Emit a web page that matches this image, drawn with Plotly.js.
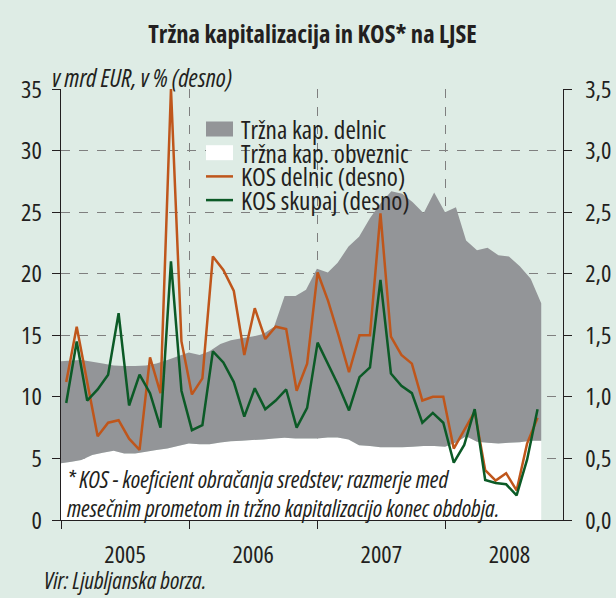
<!DOCTYPE html>
<html><head><meta charset="utf-8">
<script src="https://cdn.plot.ly/plotly-3.0.1.min.js"></script>
<style>html,body{margin:0;padding:0;background:#deece5;}#chart{width:616px;height:598px;}</style>
</head><body><div id="chart"></div>
<script>
// ---- data ----
// market capitalisation at end of month (mrd EUR), Dec 2004 .. Sep 2008
const kapObveznic = [4.6,4.73,4.87,5.27,5.46,5.62,5.4,5.4,5.54,5.68,5.81,6.0,6.22,6.16,6.16,6.3,6.4,6.43,6.49,6.54,6.62,6.68,6.62,6.62,6.62,6.7,6.7,6.54,6.08,6.0,5.9,5.9,5.9,5.95,6.0,6.0,5.95,6.3,6.8,6.35,6.27,6.22,6.27,6.32,6.43,6.43];
const kapDelnic = [8.3,8.22,8.13,7.58,7.24,6.93,7.1,7.1,7.01,7.02,7.19,7.3,7.38,7.24,7.54,8.0,8.2,8.32,8.41,8.56,9.08,11.52,11.58,12.08,13.78,13.4,14.2,15.66,16.92,18.5,19.8,20.8,20.6,19.85,18.9,20.6,19.05,19.1,15.9,15.55,15.83,15.28,15.13,14.28,13.17,11.17];
// monthly turnover ratio (%), Jan 2005 .. Oct 2008
const kosDelnic = [1.12,1.57,1.12,0.68,0.79,0.81,0.66,0.57,1.32,1.03,3.5,1.45,1.02,1.15,2.14,2.03,1.86,1.34,1.72,1.47,1.57,1.55,1.05,1.27,2.01,1.78,1.5,1.2,1.5,1.5,2.49,1.49,1.34,1.27,0.97,1.0,1.0,0.58,0.73,0.88,0.405,0.32,0.38,0.24,0.62,0.83];
const kosSkupaj = [0.95,1.45,0.97,1.06,1.18,1.68,0.93,1.18,1.03,0.75,2.1,1.05,0.73,0.77,1.37,1.28,1.12,0.84,1.07,0.9,0.97,1.06,0.75,0.91,1.44,1.27,1.09,0.89,1.16,1.24,1.95,1.19,1.09,1.03,0.79,0.87,0.79,0.465,0.61,0.9,0.325,0.3,0.29,0.2,0.49,0.9];
const monthNames = ['jan','feb','mar','apr','maj','jun','jul','avg','sep','okt','nov','dec'];
const seriesNames = ['Tržna kap. delnic','Tržna kap. obveznic','KOS delnic (desno)','KOS skupaj (desno)'];
const titleText = 'Tržna kapitalizacija in KOS* na LJSE';
const yTitleText = 'v mrd EUR, v % (desno)';
const noteLines = ['* KOS - koeficient obračanja sredstev; razmerje med', 'mesečnim prometom in tržno kapitalizacijo konec obdobja.'];
const sourceText = 'Vir: Ljubljanska borza.';

// category labels
const areaDates = kapObveznic.map((_, j) => new Date(Date.UTC(2005, j, 0)).toISOString().slice(0, 10));
const kosMonths = kosDelnic.map((_, i) => monthNames[i % 12] + ' ' + (2005 + Math.floor(i / 12)));

// ---- font selection (prefer a narrow sans) ----
function measure(text, family, opts) {
  opts = opts || {};
  const s = document.createElement('span');
  s.style.cssText = 'position:absolute;left:-9999px;top:0;white-space:nowrap;font-size:100px;' +
    'font-family:' + family + ';font-weight:' + (opts.weight || 'normal') + ';font-style:' + (opts.style || 'normal') +
    ';font-stretch:' + (opts.stretch || 'normal');
  s.textContent = text;
  document.body.appendChild(s);
  const w = s.getBoundingClientRect().width;
  s.remove();
  return w;
}
const probe = 'mesečnim prometom in tržno kapitalizacijo 2005';
function available(fam) {
  return measure(probe, "'" + fam + "',monospace") !== measure(probe, 'monospace') &&
         measure(probe, "'" + fam + "',serif") !== measure(probe, 'serif');
}
let FAM = "'Liberation Sans',Arial,sans-serif", STRETCH = 'normal';
const candidates = [
  {f: 'Liberation Sans Narrow', s: 'normal'},
  {f: 'Arial Narrow', s: 'normal'},
  {f: 'Noto Sans', s: 'semi-condensed'},
  {f: 'Noto Sans SemiCondensed', s: 'normal'},
  {f: 'Open Sans', s: 'semi-condensed'},
  {f: 'Noto Sans Condensed', s: 'normal'}
];
const baseW = measure(probe, "'Liberation Sans',Arial,sans-serif");
for (const c of candidates) {
  if (!available(c.f)) continue;
  const w = measure(probe, "'" + c.f + "'", {stretch: c.s});
  const wn = measure(probe, "'" + c.f + "'");
  if (c.s !== 'normal' && w > 0.95 * wn) continue;
  if (w / baseW > 0.92) continue;
  FAM = "'" + c.f + "','Liberation Sans',Arial,sans-serif"; STRETCH = c.s; break;
}
if (STRETCH !== 'normal') {
  // applies to the drawn svg and to Plotly's hidden measuring svg alike
  const st = document.createElement('style');
  st.textContent = 'svg text, svg tspan{font-stretch:' + STRETCH + ' !important;}';
  document.head.appendChild(st);
}
// font size (px) that makes `text` about `target` px wide
function fit(text, target, opts) {
  opts = Object.assign({stretch: STRETCH}, opts || {});
  const w = measure(text, FAM, opts);
  const size = w > 0 ? 100 * target / w : 18;
  return Math.max(10, Math.min(26, Math.round(size * 10) / 10));
}
const sTitle = fit(titleText, 329, {weight: 'bold'});
const sLegend = fit(seriesNames[1], 168);
const sNote = fit(noteLines[1], 432, {style: 'italic'});
const sYT = fit(yTitleText, 180, {style: 'italic'});
const sSrc = fit(sourceText, 162, {style: 'italic'});
const sTick = fit('2005', 41.5);

const BG = '#deece5';
const INK = '#231f20';
const GRID = '#7f7f7f';

const traces = [
  {x: areaDates, y: kapObveznic, name: seriesNames[1], type: 'scatter', mode: 'none',
   stackgroup: 'kap', fillcolor: '#ffffff', legendrank: 2, hoverinfo: 'skip'},
  {x: areaDates, y: kapDelnic, name: seriesNames[0], type: 'scatter', mode: 'none',
   stackgroup: 'kap', fillcolor: '#939598', legendrank: 1, hoverinfo: 'skip'},
  {x: kosMonths, y: kosDelnic, name: seriesNames[2], type: 'scatter', mode: 'lines',
   xaxis: 'x3', yaxis: 'y2', line: {color: '#bf561b', width: 2.5}, legendrank: 3},
  {x: kosMonths, y: kosSkupaj, name: seriesNames[3], type: 'scatter', mode: 'lines',
   xaxis: 'x3', yaxis: 'y2', line: {color: '#0b5a26', width: 2.5}, legendrank: 4}
];

const axisCommon = {ticks: 'outside', ticklen: 8, tickcolor: INK, showline: true, linecolor: INK,
                    linewidth: 1.3, zeroline: false, tickfont: {size: sTick, color: INK}};

const layout = {
  width: 616, height: 598,
  paper_bgcolor: BG, plot_bgcolor: BG,
  margin: {l: 61, r: 53, t: 89, b: 78, autoexpand: false},
  separators: ',.',
  font: {family: FAM, size: sLegend, color: INK},
  showlegend: true,
  title: {text: '<b>' + titleText + '</b>', font: {family: FAM, size: sTitle, color: INK},
          x: 312.5 / 616, xref: 'container', xanchor: 'center', y: 1 - 34 / 598, yref: 'container', yanchor: 'middle'},
  xaxis: Object.assign({}, axisCommon, {type: 'date', range: ['2005-01-01', '2008-12-01'], dtick: 'M12',
          tick0: '2005-01-01', ticklabelmode: 'period', tickformat: '%Y', ticklabelstandoff: 4,
          showgrid: true, gridcolor: GRID, griddash: 'dash', gridwidth: 1}),
  xaxis3: {type: 'category', overlaying: 'x', range: [-0.5, 47.43], visible: false},
  yaxis: Object.assign({}, axisCommon, {range: [0, 35], dtick: 5, ticklabelstandoff: 5,
          showgrid: true, gridcolor: GRID, griddash: 'dash', gridwidth: 1}),
  yaxis2: Object.assign({}, axisCommon, {overlaying: 'y', side: 'right', range: [0, 3.5], dtick: 0.5,
          tickformat: '.1f', showgrid: false, ticklabelstandoff: 8}),
  legend: {x: (201 - 61) / 502, y: 0.945, xanchor: 'left', yanchor: 'top', bgcolor: 'rgba(0,0,0,0)',
           borderwidth: 0, traceorder: 'normal', font: {size: sLegend, color: INK}, tracegroupgap: 0, itemwidth: 30},
  shapes: [
    {type: 'rect', xref: 'paper', yref: 'paper', x0: (200 - 61) / 502, x1: (413 - 61) / 502,
     y0: (520 - 215) / 431.4, y1: (520 - 113) / 431.4, fillcolor: BG, line: {width: 0}, layer: 'between'}
  ],
  annotations: [
    {text: '<i>' + yTitleText + '</i>', xref: 'paper', yref: 'paper', x: (50 - 61) / 502, y: (520 - 77) / 431.4,
     xanchor: 'left', yanchor: 'middle', showarrow: false, font: {size: sYT, color: INK}},
    {text: '<i>' + noteLines[0] + '</i>', xref: 'paper', yref: 'paper', x: (65 - 61) / 502, y: (520 - 479) / 431.4,
     xanchor: 'left', yanchor: 'middle', showarrow: false, font: {size: sNote, color: INK}},
    {text: '<i>' + noteLines[1] + '</i>', xref: 'paper', yref: 'paper', x: (65 - 61) / 502, y: (520 - 508) / 431.4,
     xanchor: 'left', yanchor: 'middle', showarrow: false, font: {size: sNote, color: INK}},
    {text: '<i>' + sourceText + '</i>', xref: 'paper', yref: 'paper', x: (42 - 61) / 502, y: (520 - 580) / 431.4,
     xanchor: 'left', yanchor: 'middle', showarrow: false, font: {size: sSrc, color: INK}}
  ]
};

Plotly.newPlot('chart', traces, layout, {displayModeBar: false, staticPlot: true}).then(() => {
  document.querySelectorAll('.legend .legendfill path').forEach(p => p.setAttribute('d', 'M5,-7.5h27v15h-27z'));
  document.querySelectorAll('.legend .legendlines path').forEach(p => p.setAttribute('d', 'M5,0h27'));
  // tighten legend rows to the reference spacing
  const re = /translate\(\s*([-\d.]+)[ ,]+([-\d.]+)/;
  const items = Array.from(document.querySelectorAll('.legend .traces'));
  const lg = document.querySelector('.legend');
  if (items.length && lg) {
    const m = re.exec(items[0].getAttribute('transform') || '');
    const y0 = m ? parseFloat(m[2]) : 0;
    items.forEach((it, i) => {
      const mm = re.exec(it.getAttribute('transform') || '');
      const x = mm ? parseFloat(mm[1]) : 0;
      it.setAttribute('transform', 'translate(' + x + ',' + (y0 + i * 23.7) + ')');
    });
    const lm = re.exec(lg.getAttribute('transform') || '');
    if (lm) lg.setAttribute('transform', 'translate(' + lm[1] + ',' + (129 - y0) + ')');
  }
});
</script></body></html>
